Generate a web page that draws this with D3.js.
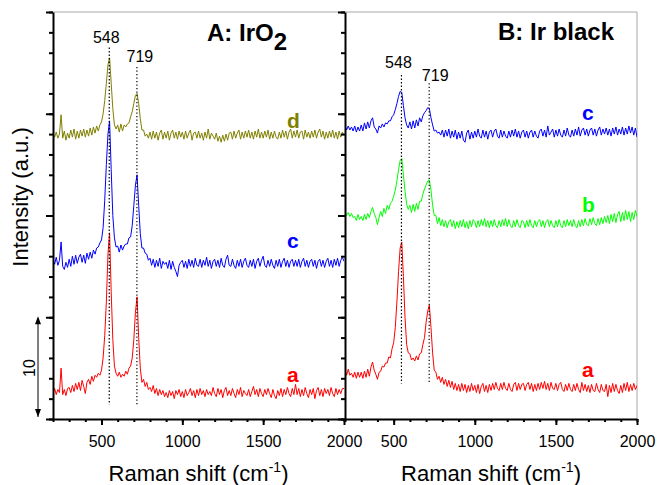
<!DOCTYPE html>
<html>
<head>
<meta charset="utf-8">
<script src="https://cdn.jsdelivr.net/npm/d3@7"></script>
<style>
    body { margin: 0; background: #fff; }
    svg { display: block; font-family: "Liberation Sans", Arial, sans-serif; }
    .trace { fill: none; stroke-width: 1; stroke-linejoin: round; }
    .axis path, .axis line { stroke: #000; stroke-width: 2; }
</style>
</head>
<body>
<div id="chart_raman"></div>
<script>
// Raman shift grid (cm-1), shared by every spectrum
var ramanShift = [
    200, 210, 220, 230, 240, 250, 260, 270, 280, 290,
    300, 310, 320, 330, 340, 350, 360, 370, 380, 390,
    400, 410, 420, 430, 440, 450, 460, 470, 480, 490,
    500, 510, 520, 530, 540, 550, 560, 570, 580, 590,
    600, 610, 620, 630, 640, 650, 660, 670, 680, 690,
    700, 710, 720, 730, 740, 750, 760, 770, 780, 790,
    800, 810, 820, 830, 840, 850, 860, 870, 880, 890,
    900, 910, 920, 930, 940, 950, 960, 970, 980, 990,
    1000, 1010, 1020, 1030, 1040, 1050, 1060, 1070, 1080, 1090,
    1100, 1110, 1120, 1130, 1140, 1150, 1160, 1170, 1180, 1190,
    1200, 1210, 1220, 1230, 1240, 1250, 1260, 1270, 1280, 1290,
    1300, 1310, 1320, 1330, 1340, 1350, 1360, 1370, 1380, 1390,
    1400, 1410, 1420, 1430, 1440, 1450, 1460, 1470, 1480, 1490,
    1500, 1510, 1520, 1530, 1540, 1550, 1560, 1570, 1580, 1590,
    1600, 1610, 1620, 1630, 1640, 1650, 1660, 1670, 1680, 1690,
    1700, 1710, 1720, 1730, 1740, 1750, 1760, 1770, 1780, 1790,
    1800, 1810, 1820, 1830, 1840, 1850, 1860, 1870, 1880, 1890,
    1900, 1910, 1920, 1930, 1940, 1950, 1960, 1970, 1980, 1990,
    2000];

// panel A: IrO2, intensity (a.u., offset stacked)
var irO2_a = [
    2.5, 3.0, 2.4, 2.9, 2.6, 5.0, 2.4, 2.9, 2.3, 3.0,
    3.1, 2.6, 3.3, 2.7, 3.5, 2.9, 3.6, 2.8, 3.8, 3.2,
    2.5, 3.6, 3.9, 3.4, 4.2, 3.7, 4.3, 4.1, 4.5, 4.3,
    4.8, 6.0, 8.2, 11.5, 16.2, 18.3, 12.5, 7.8, 5.2, 4.5,
    4.2, 4.6, 4.1, 4.4, 4.2, 4.7, 4.4, 5.0, 5.2, 6.0,
    7.8, 10.5, 12.0, 8.0, 5.0, 3.6, 3.9, 3.2, 3.6, 2.9,
    3.1, 2.7, 3.3, 2.5, 3.0, 2.3, 2.9, 2.4, 2.8, 2.2,
    2.6, 2.1, 2.8, 2.3, 2.7, 2.0, 2.8, 2.4, 2.9, 2.2,
    2.7, 2.1, 2.9, 2.3, 2.6, 3.0, 2.3, 2.8, 2.1, 2.9,
    2.3, 3.0, 2.4, 2.8, 2.2, 2.9, 2.4, 2.7, 2.3, 3.1,
    2.5, 2.2, 3.0, 2.4, 2.9, 2.1, 2.8, 3.1, 2.3, 2.8,
    2.3, 3.0, 2.5, 2.1, 2.9, 2.4, 3.1, 2.2, 2.8, 2.5,
    2.3, 2.9, 2.2, 2.7, 3.2, 2.4, 2.9, 2.2, 3.0, 2.5,
    2.2, 2.9, 2.4, 3.0, 2.5, 2.1, 2.9, 2.3, 2.0, 2.8,
    2.3, 3.0, 2.2, 2.9, 2.4, 3.1, 2.5, 2.2, 3.0, 2.4,
    3.4, 2.4, 3.0, 2.2, 2.9, 2.3, 3.1, 2.5, 2.1, 2.9,
    2.4, 3.0, 2.0, 2.8, 3.1, 2.3, 2.9, 2.2, 3.0, 2.5,
    2.9, 2.3, 3.1, 2.5, 2.2, 3.0, 2.4, 2.9, 2.5, 3.0,
    3.0];

var irO2_c = [
    15.7, 15.2, 15.9, 15.1, 15.6, 17.4, 15.0, 14.7, 15.4, 14.9,
    15.7, 15.0, 16.0, 15.2, 16.1, 15.3, 15.9, 16.2, 15.4, 16.1,
    15.3, 16.3, 15.7, 16.4, 15.8, 16.6, 16.2, 16.8, 16.9, 17.3,
    17.6, 18.8, 21.5, 25.0, 28.0, 29.3, 24.5, 20.0, 17.8, 16.9,
    17.0, 16.4, 17.1, 16.6, 17.0, 17.2, 17.2, 17.8, 17.9, 19.0,
    21.0, 23.0, 24.0, 21.0, 18.2, 16.8, 16.8, 16.3, 16.2, 15.6,
    15.8, 15.1, 15.7, 14.9, 15.6, 15.0, 15.8, 14.8, 15.5, 15.2,
    15.4, 14.8, 15.6, 14.7, 15.5, 14.9, 14.5, 14.0, 15.1, 15.4,
    15.6, 14.9, 15.5, 14.8, 15.7, 15.0, 15.6, 14.9, 15.8, 15.1,
    15.0, 15.7, 14.9, 15.6, 15.1, 15.9, 15.0, 15.6, 14.8, 15.5,
    15.7, 15.0, 15.6, 14.9, 15.8, 15.1, 14.9, 15.7, 16.1, 15.1,
    15.0, 15.7, 15.1, 14.8, 15.6, 15.0, 15.7, 14.9, 15.5, 15.8,
    15.1, 14.9, 15.6, 15.0, 15.7, 14.8, 15.5, 15.8, 15.0, 15.6,
    16.0, 15.1, 14.9, 15.6, 15.0, 15.7, 15.1, 14.8, 15.6, 15.0,
    15.7, 14.9, 15.5, 15.8, 15.0, 15.6, 14.9, 15.5, 15.7, 15.0,
    15.6, 15.0, 15.7, 14.9, 15.5, 15.8, 15.0, 15.6, 14.9, 15.5,
    15.7, 15.0, 15.6, 14.8, 15.5, 15.7, 15.0, 15.6, 14.9, 15.5,
    15.8, 15.0, 15.6, 14.9, 15.7, 15.1, 15.8, 15.0, 15.6, 15.9,
    15.5];

var irO2_d = [
    28.1, 27.7, 28.2, 27.6, 28.0, 29.9, 27.6, 28.3, 27.4, 28.1,
    27.6, 28.4, 27.7, 28.5, 27.5, 28.3, 27.6, 28.4, 27.8, 28.5,
    27.7, 28.4, 27.8, 28.6, 27.9, 28.7, 28.1, 28.8, 28.3, 28.9,
    29.2, 30.0, 31.3, 33.0, 34.8, 35.5, 33.0, 30.5, 28.9, 28.5,
    28.9, 28.2, 29.0, 28.3, 28.9, 28.7, 29.0, 29.1, 29.7, 30.2,
    31.0, 31.8, 32.0, 31.0, 29.5, 28.4, 28.4, 27.8, 28.0, 27.6,
    28.2, 27.5, 28.3, 27.6, 28.2, 27.4, 28.1, 28.4, 27.5, 28.2,
    27.6, 28.3, 27.4, 28.1, 28.4, 27.6, 28.2, 27.5, 28.3, 27.7,
    28.2, 27.5, 28.3, 27.6, 28.1, 28.4, 27.4, 28.1, 28.2, 27.6,
    28.3, 27.6, 28.1, 27.4, 28.2, 27.6, 28.5, 27.5, 28.1, 27.8,
    27.5, 28.1, 27.3, 27.8, 27.2, 27.9, 27.3, 28.0, 27.4, 28.1,
    28.2, 27.5, 28.3, 27.6, 28.1, 28.4, 27.5, 28.2, 27.6, 28.3,
    27.7, 28.4, 27.6, 28.2, 27.5, 28.3, 27.7, 28.5, 27.6, 28.2,
    27.6, 28.3, 27.7, 28.4, 27.5, 28.2, 27.6, 28.3, 27.7, 27.5,
    28.2, 27.6, 28.4, 27.7, 28.3, 27.5, 28.2, 28.5, 27.6, 28.3,
    27.7, 28.4, 27.6, 28.2, 28.3, 27.5, 28.4, 27.7, 28.2, 27.6,
    28.3, 27.7, 28.4, 27.6, 28.2, 28.5, 27.7, 28.3, 27.5, 28.2,
    27.6, 28.3, 27.7, 28.4, 27.6, 28.2, 27.5, 28.3, 27.7, 28.2,
    27.9];

// panel B: Ir black
var irBlack_a = [
    4.8, 4.3, 4.9, 4.3, 4.5, 4.1, 4.6, 4.0, 4.6, 4.1,
    4.6, 4.0, 4.7, 4.1, 4.9, 4.2, 5.1, 5.6, 4.8, 4.4,
    3.9, 4.6, 4.7, 5.2, 5.1, 5.5, 5.5, 6.1, 6.0, 6.9,
    7.5, 9.0, 11.5, 14.5, 16.8, 17.4, 14.0, 10.0, 7.3, 6.5,
    6.4, 5.8, 6.0, 5.7, 6.2, 5.8, 6.4, 6.5, 7.3, 8.0,
    9.5, 10.6, 11.2, 9.0, 6.5, 4.8, 4.6, 3.9, 4.2, 3.6,
    4.1, 3.4, 3.9, 3.2, 3.8, 3.1, 3.7, 2.9, 3.5, 2.8,
    3.4, 2.7, 3.5, 2.8, 3.4, 2.6, 3.3, 2.7, 3.5, 2.8,
    3.3, 2.6, 3.4, 2.5, 3.2, 3.5, 2.7, 3.3, 2.6, 3.4,
    2.8, 3.5, 2.9, 3.6, 3.0, 2.8, 3.5, 2.9, 3.6, 3.0,
    2.8, 3.5, 2.9, 2.7, 3.4, 3.6, 2.8, 3.5, 2.9, 3.4,
    3.5, 2.8, 3.4, 3.6, 2.9, 3.5, 2.7, 3.4, 2.8, 3.5,
    2.9, 3.6, 3.0, 3.7, 2.9, 3.5, 2.8, 3.6, 3.0, 2.9,
    3.5, 2.8, 3.4, 3.6, 2.9, 2.7, 3.4, 2.8, 3.5, 2.9,
    2.7, 3.4, 2.8, 3.5, 2.9, 2.6, 3.6, 2.8, 3.4, 2.7,
    3.3, 2.6, 3.4, 2.8, 2.7, 3.5, 2.9, 2.6, 3.4, 2.8,
    2.7, 3.4, 2.2, 3.3, 2.6, 3.5, 2.7, 3.4, 2.8, 2.5,
    3.3, 2.6, 3.5, 2.8, 3.6, 2.7, 3.4, 2.8, 3.5, 2.9,
    3.3];

var irBlack_b = [
    20.4, 20.0, 20.3, 19.9, 20.2, 19.8, 19.9, 19.5, 20.1, 19.6,
    19.9, 19.5, 20.1, 19.6, 20.2, 19.8, 20.4, 20.8, 20.2, 19.8,
    19.1, 19.8, 20.4, 19.9, 20.7, 20.2, 21.0, 20.6, 21.2, 21.4,
    21.9, 22.5, 23.4, 24.5, 25.4, 25.6, 24.0, 22.4, 21.1, 20.6,
    21.0, 20.3, 21.1, 20.4, 21.2, 20.6, 21.4, 21.4, 22.1, 22.6,
    23.0, 23.4, 23.5, 22.5, 21.0, 20.0, 20.0, 19.2, 19.8, 19.0,
    19.6, 18.9, 19.5, 18.8, 19.4, 19.6, 18.9, 19.5, 18.7, 19.4,
    18.8, 19.5, 18.9, 19.6, 18.8, 19.4, 18.7, 19.5, 18.9, 19.6,
    19.4, 18.8, 19.5, 18.9, 19.6, 19.0, 19.7, 18.9, 19.5, 18.8,
    19.5, 18.9, 19.6, 19.0, 18.8, 19.5, 18.9, 19.6, 19.0, 19.7,
    18.9, 19.6, 19.0, 18.8, 19.5, 18.9, 19.6, 19.0, 18.8, 19.5,
    19.4, 18.8, 19.5, 18.9, 19.6, 19.0, 18.8, 19.5, 18.9, 19.4,
    19.6, 18.9, 19.5, 18.8, 19.4, 19.6, 18.9, 19.5, 19.0, 18.8,
    19.5, 18.9, 19.6, 19.0, 18.8, 19.5, 18.9, 19.6, 19.0, 19.5,
    18.9, 19.6, 19.0, 18.8, 19.5, 18.9, 19.6, 19.0, 19.7, 19.1,
    19.0, 19.7, 19.1, 19.8, 19.2, 19.0, 19.7, 19.1, 19.8, 19.2,
    19.9, 19.3, 20.0, 19.2, 20.1, 19.4, 20.2, 19.3, 20.1, 20.4,
    19.4, 20.3, 19.5, 20.5, 19.6, 20.4, 19.4, 20.3, 19.6, 20.5,
    19.9];

var irBlack_c = [
    28.8, 28.4, 28.8, 28.4, 28.7, 28.3, 28.8, 28.2, 28.7, 28.3,
    28.9, 28.3, 29.1, 28.5, 29.2, 28.6, 29.3, 29.6, 28.7, 28.5,
    28.1, 28.8, 28.6, 29.0, 28.7, 29.1, 29.0, 29.3, 29.3, 29.7,
    29.9, 30.4, 31.0, 31.7, 32.2, 32.1, 30.8, 29.6, 28.9, 28.6,
    29.2, 28.5, 29.3, 28.6, 29.4, 28.8, 29.6, 29.2, 29.8, 30.1,
    30.3, 30.6, 30.5, 29.6, 28.9, 28.3, 28.4, 28.1, 28.2, 27.9,
    28.4, 27.7, 28.4, 27.8, 28.5, 27.6, 28.3, 27.7, 28.4, 27.5,
    28.2, 27.6, 28.3, 27.4, 27.2, 28.1, 28.4, 27.5, 28.2, 27.6,
    28.3, 27.7, 28.5, 27.8, 27.6, 28.4, 27.7, 28.3, 27.5, 28.2,
    28.4, 27.7, 28.3, 28.5, 27.8, 27.6, 28.4, 27.7, 28.3, 27.8,
    27.6, 28.3, 27.7, 28.4, 27.8, 28.5, 27.7, 28.3, 27.6, 28.2,
    28.4, 27.7, 28.3, 27.6, 28.2, 28.4, 27.7, 28.3, 27.8, 27.6,
    28.3, 28.5, 27.8, 28.4, 27.7, 28.8, 27.9, 28.2, 28.5, 27.7,
    28.4, 27.8, 28.5, 27.9, 27.7, 28.4, 27.8, 28.6, 27.9, 27.7,
    28.4, 27.8, 28.5, 27.9, 28.7, 27.8, 28.4, 28.6, 27.9, 28.5,
    27.8, 28.4, 28.6, 27.9, 28.5, 27.8, 28.4, 28.7, 27.9, 28.5,
    28.0, 28.6, 27.9, 28.5, 27.8, 28.6, 28.0, 28.7, 27.9, 28.5,
    28.0, 28.7, 27.9, 28.6, 28.0, 28.8, 28.1, 28.7, 27.9, 28.6,
    27.7];

var peakShifts = [548, 719];
var xTickValues = [500, 1000, 1500, 2000];

var width = 657,
    height = 485,
    plotTop = 12,
    plotBottom = 419;

var y = d3.scaleLinear().domain([0, 40]).range([plotBottom, plotTop]);

var panels = [
    {
        id: "A", left: 53, right: 344,
        title: "A: IrO", titleSub: "2", titleX: 207, titleY: 41,
        dotTop: [36.5, 34.6], dotBottom: 1.4,
        peakLabelDx: [-3, 3], peakLabelY: [43, 62],
        labelX: 287,
        series: [
            {values: irO2_a, color: "#ff0000", label: "a", labelY: 3.6},
            {values: irO2_c, color: "#0000ff", label: "c", labelY: 16.8},
            {values: irO2_d, color: "#808000", label: "d", labelY: 28.6}
        ]
    },
    {
        id: "B", left: 345, right: 637,
        title: "B: Ir black", titleSub: "", titleX: 498, titleY: 40,
        dotTop: [33.8, 33.0], dotBottom: 3.5,
        peakLabelDx: [-3, 6], peakLabelY: [68, 81],
        labelX: 582,
        series: [
            {values: irBlack_a, color: "#ff0000", label: "a", labelY: 4.1},
            {values: irBlack_b, color: "#00ff00", label: "b", labelY: 20.3},
            {values: irBlack_c, color: "#0000ff", label: "c", labelY: 29.4}
        ]
    }
];

var svg = d3.select("#chart_raman").append("svg")
    .attr("width", width)
    .attr("height", height);

// light frame on top and right
svg.append("path")
    .attr("d", "M53," + plotTop + "H637V" + plotBottom)
    .attr("fill", "none")
    .attr("stroke", "#a8a8a8")
    .attr("stroke-width", 1);

panels.forEach(function (p) {
    var x = d3.scaleLinear().domain([200, 2000]).range([p.left, p.right]);

    svg.append("clipPath")
        .attr("id", "clip" + p.id)
        .append("rect")
        .attr("x", p.left)
        .attr("y", plotTop)
        .attr("width", p.right - p.left)
        .attr("height", plotBottom - plotTop);

    var line = d3.line()
        .x(function (d, i) { return x(ramanShift[i]); })
        .y(function (d) { return y(d); });

    var g = svg.append("g").attr("clip-path", "url(#clip" + p.id + ")");

    g.selectAll(".trace")
        .data(p.series)
        .enter().append("path")
        .attr("class", "trace")
        .attr("stroke", function (d) { return d.color; })
        .attr("d", function (d) { return line(d.values); });

    // dotted markers at the two Raman bands
    svg.selectAll(".dot" + p.id)
        .data(peakShifts)
        .enter().append("line")
        .attr("class", "dot" + p.id)
        .attr("x1", function (d) { return x(d); })
        .attr("x2", function (d) { return x(d); })
        .attr("y1", function (d, i) { return y(p.dotTop[i]); })
        .attr("y2", y(p.dotBottom))
        .attr("stroke", "#000")
        .attr("stroke-width", 1.2)
        .attr("stroke-dasharray", "1.3,2.2");

    svg.selectAll(".peakLabel" + p.id)
        .data(peakShifts)
        .enter().append("text")
        .attr("class", "peakLabel" + p.id)
        .attr("x", function (d, i) { return x(d) + p.peakLabelDx[i]; })
        .attr("y", function (d, i) { return p.peakLabelY[i]; })
        .attr("text-anchor", "middle")
        .style("font-size", "16px")
        .text(function (d) { return d; });

    svg.selectAll(".seriesLabel" + p.id)
        .data(p.series)
        .enter().append("text")
        .attr("class", "seriesLabel" + p.id)
        .attr("x", p.labelX)
        .attr("y", function (d) { return y(d.labelY); })
        .attr("fill", function (d) { return d.color; })
        .style("font-size", "21px")
        .style("font-weight", "bold")
        .text(function (d) { return d.label; });

    var title = svg.append("text")
        .attr("x", p.titleX)
        .attr("y", p.titleY)
        .style("font-size", "24px")
        .style("font-weight", "bold")
        .text(p.title);
    if (p.titleSub) {
        title.append("tspan").attr("dy", 9).text(p.titleSub);
    }

    // bottom axis: minor ticks, then labelled major ticks
    svg.append("g")
        .attr("class", "axis")
        .attr("transform", "translate(0," + plotBottom + ")")
        .call(d3.axisBottom(x).tickValues(d3.range(200, 2001, 100)).tickSize(3).tickSizeOuter(0).tickFormat(""));
    var xAxis = svg.append("g")
        .attr("class", "axis")
        .attr("transform", "translate(0," + plotBottom + ")")
        .call(d3.axisBottom(x).tickValues(xTickValues).tickSize(6).tickSizeOuter(0).tickPadding(11).tickFormat(d3.format("d")));
    xAxis.select(".domain").remove();
    xAxis.selectAll("text")
        .style("font-size", "16px")
        .style("font-family", "'Liberation Sans', Arial, sans-serif")
        .attr("fill", "#000");

    // vertical axis on the left edge of each panel
    svg.append("g")
        .attr("class", "axis")
        .attr("transform", "translate(" + p.left + ",0)")
        .call(d3.axisLeft(y).tickValues(d3.range(0, 41, 2)).tickSize(4).tickSizeOuter(0).tickFormat(""));
    svg.append("g")
        .attr("class", "axis")
        .attr("transform", "translate(" + p.left + ",0)")
        .call(d3.axisLeft(y).tickValues([0, 10, 20, 30, 40]).tickSize(7).tickSizeOuter(0).tickFormat(""))
        .select(".domain").remove();

    // axis title
    var xt = svg.append("text")
        .attr("x", (p.left + p.right) / 2)
        .attr("y", 481)
        .attr("text-anchor", "middle")
        .style("font-size", "22px")
        .text("Raman shift (cm");
    xt.append("tspan").attr("dy", -9).style("font-size", "14px").text("-1");
    xt.append("tspan").attr("dy", 9).text(")");
});

svg.append("text")
    .attr("transform", "translate(28,197) rotate(-90)")
    .attr("text-anchor", "middle")
    .style("font-size", "22px")
    .text("Intensity (a.u.)");

// scale bar: 10 intensity units
var barX = 38;
svg.append("line")
    .attr("x1", barX).attr("x2", barX)
    .attr("y1", y(10) + 1).attr("y2", y(0) - 2)
    .attr("stroke", "#000")
    .attr("stroke-width", 1);
svg.append("path")
    .attr("d", "M" + barX + "," + (y(10) - 1) + "l-3,8h6z M" + barX + "," + (y(0) - 2) + "l-3,-8h6z")
    .attr("fill", "#000");
svg.append("text")
    .attr("transform", "translate(35," + y(5) + ") rotate(-90)")
    .attr("text-anchor", "middle")
    .style("font-size", "16px")
    .text("10");
</script>
</body>
</html>
